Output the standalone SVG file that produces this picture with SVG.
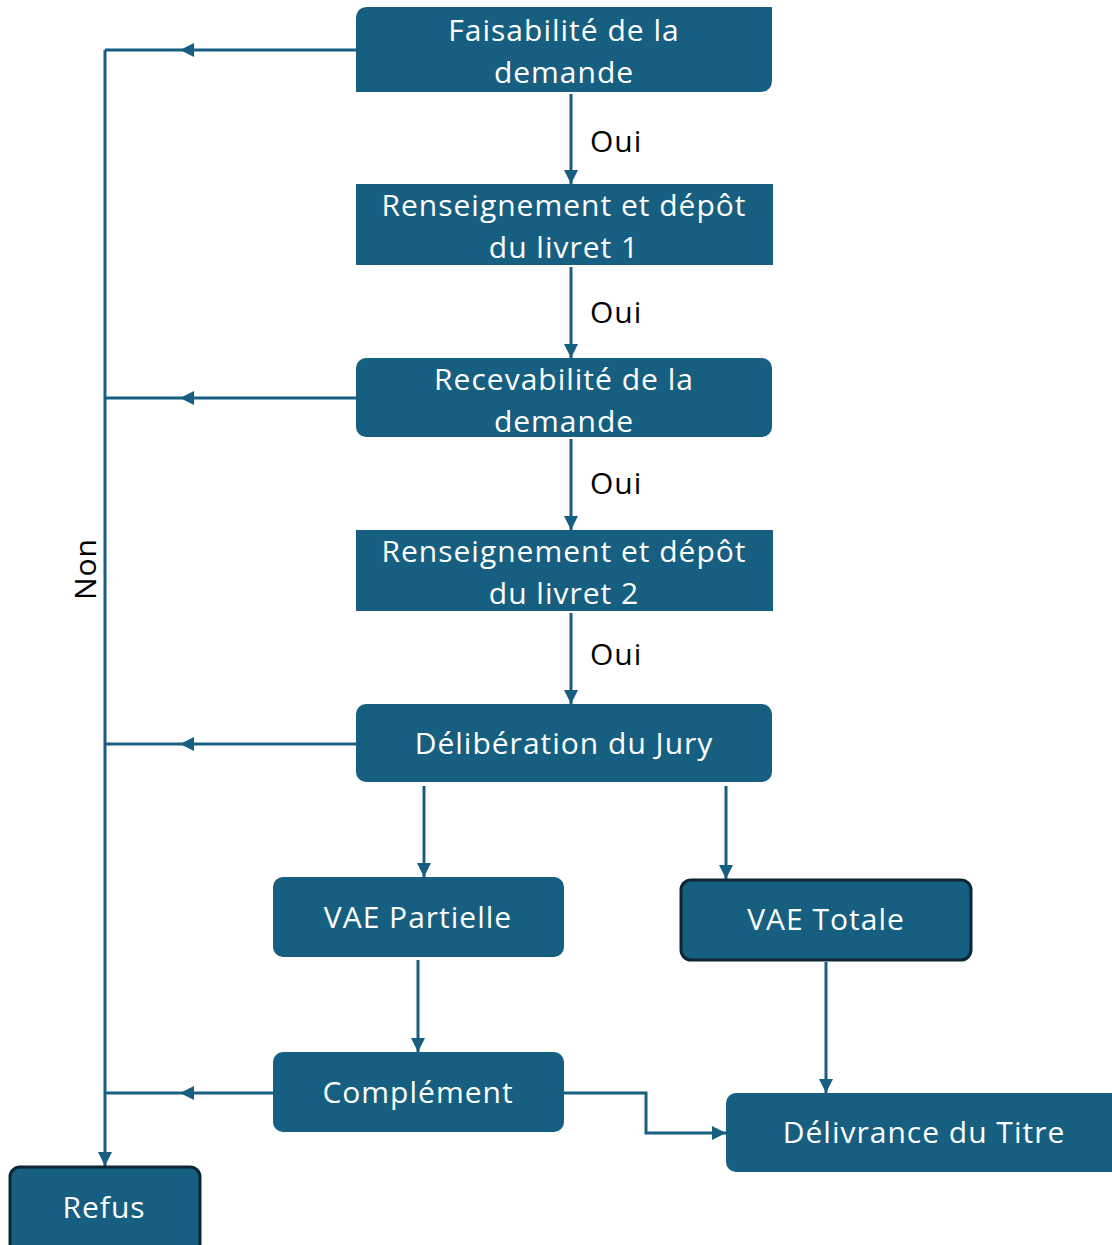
<svg xmlns="http://www.w3.org/2000/svg" width="1112" height="1245" viewBox="0 0 1112 1245">
<defs>
<marker id="ah" markerUnits="userSpaceOnUse" markerWidth="16" markerHeight="14" refX="14" refY="7" orient="auto">
<path d="M0,0 L14,7 L0,14 Z" fill="#175F80"/>
</marker>
<style>
.box{fill:#175F80;}
.dark{stroke:#0B2736;stroke-width:3;}
.t{font-family:"Open Sans","Liberation Sans",sans-serif;font-size:30px;letter-spacing:1px;fill:#ffffff;text-anchor:middle;}
.lbl{font-family:"Open Sans","Liberation Sans",sans-serif;font-size:30px;letter-spacing:1px;fill:#000000;}
.c{fill:none;stroke:#175F80;stroke-width:3;}
</style>
</defs>
<rect width="1112" height="1245" fill="#ffffff"/>
<g id="connectors">
<path class="c" d="M571,94 L571,184" marker-end="url(#ah)"/>
<path class="c" d="M571,267 L571,358" marker-end="url(#ah)"/>
<path class="c" d="M571,439 L571,530" marker-end="url(#ah)"/>
<path class="c" d="M571,613 L571,704" marker-end="url(#ah)"/>
<path class="c" d="M105,50 L105,1166" marker-end="url(#ah)"/>
<path class="c" d="M356,50 L180,50" marker-end="url(#ah)"/>
<path class="c" d="M180,50 L105,50"/>
<path class="c" d="M356,398 L180,398" marker-end="url(#ah)"/>
<path class="c" d="M180,398 L105,398"/>
<path class="c" d="M356,744 L180,744" marker-end="url(#ah)"/>
<path class="c" d="M180,744 L105,744"/>
<path class="c" d="M273,1093 L180,1093" marker-end="url(#ah)"/>
<path class="c" d="M180,1093 L105,1093"/>
<path class="c" d="M424,786 L424,877" marker-end="url(#ah)"/>
<path class="c" d="M726,786 L726,879" marker-end="url(#ah)"/>
<path class="c" d="M418,960 L418,1052" marker-end="url(#ah)"/>
<path class="c" d="M826,962 L826,1093" marker-end="url(#ah)"/>
<path class="c" d="M564,1093 L646,1093 L646,1133 L726,1133" marker-end="url(#ah)"/>
<text class="lbl" x="590" y="152">Oui</text>
<text class="lbl" x="590" y="323">Oui</text>
<text class="lbl" x="590" y="494">Oui</text>
<text class="lbl" x="590" y="665">Oui</text>
<text class="lbl" transform="translate(96,569) rotate(-90)" text-anchor="middle">Non</text>
</g>
<g id="n1">
<path class="box" d="M368,7 L772,7 L772,80 Q772,92 760,92 L356,92 L356,19 Q356,7 368,7 Z"/>
<text class="t" x="564" y="41">Faisabilité de la</text>
<text class="t" x="564" y="83">demande</text>
</g>
<g id="n2">
<rect class="box" x="356" y="184" width="417" height="81"/>
<text class="t" x="564" y="216">Renseignement et dépôt</text>
<text class="t" x="564" y="258">du livret 1</text>
</g>
<g id="n3">
<rect class="box" x="356" y="358" width="416" height="79" rx="10"/>
<text class="t" x="564" y="390">Recevabilité de la</text>
<text class="t" x="564" y="432">demande</text>
</g>
<g id="n4">
<rect class="box" x="356" y="530" width="417" height="81"/>
<text class="t" x="564" y="562">Renseignement et dépôt</text>
<text class="t" x="564" y="604">du livret 2</text>
</g>
<g id="n5">
<rect class="box" x="356" y="704" width="416" height="78" rx="10"/>
<text class="t" x="564" y="754">Délibération du Jury</text>
</g>
<g id="n6">
<rect class="box" x="273" y="877" width="291" height="80" rx="10"/>
<text class="t" x="418" y="928">VAE Partielle</text>
</g>
<g id="n7">
<rect class="box dark" x="681" y="880" width="290" height="80" rx="10"/>
<text class="t" x="826" y="930">VAE Totale</text>
</g>
<g id="n8">
<rect class="box" x="273" y="1052" width="291" height="80" rx="10"/>
<text class="t" x="418" y="1103">Complément</text>
</g>
<g id="n9">
<rect class="box" x="726" y="1093" width="400" height="79" rx="10"/>
<text class="t" x="924" y="1143">Délivrance du Titre</text>
</g>
<g id="n10">
<rect class="box dark" x="10" y="1167" width="190" height="90" rx="10"/>
<text class="t" x="104" y="1218">Refus</text>
</g>
</svg>
